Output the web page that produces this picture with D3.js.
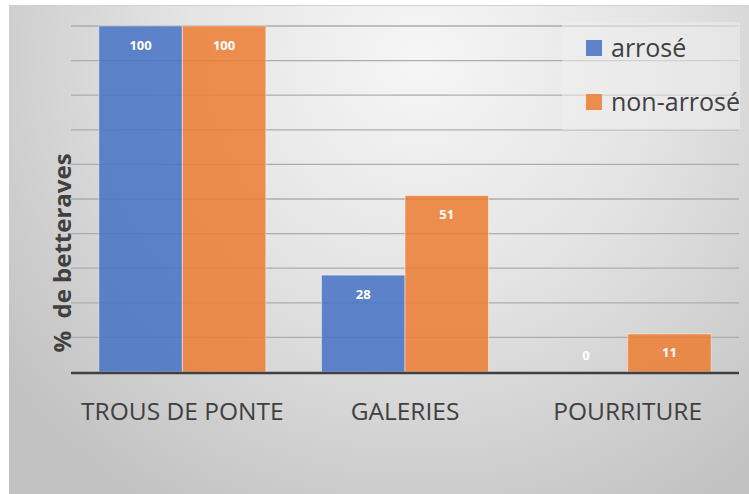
<!DOCTYPE html>
<html>
<head>
<meta charset="utf-8">
<script src="https://cdn.jsdelivr.net/npm/d3@7"></script>
<style>
  body { margin: 0; background: #fff; }
  text { font-family: "Open Sans", sans-serif; }
</style>
</head>
<body>
<div id="chart"></div>
<script>
const categories = ["TROUS DE PONTE", "GALERIES", "POURRITURE"];
const seriesNames = ["arrosé", "non-arrosé"];
const arroseValues = [100, 28, 0];
const nonArroseValues = [100, 51, 11];
const yTicks = [0, 10, 20, 30, 40, 50, 60, 70, 80, 90, 100];

const W = 749, H = 494;
const plot = { left: 71, right: 739, top: 26, bottom: 372 };
const colors = ["#4472C4", "#ED7D31"];

const svg = d3.select("#chart").append("svg")
    .attr("width", W).attr("height", H);

// background gradient
const defs = svg.append("defs");
const grad = defs.append("radialGradient")
    .attr("id", "bg")
    .attr("gradientUnits", "userSpaceOnUse")
    .attr("cx", 420).attr("cy", 60).attr("r", 520);
grad.append("stop").attr("offset", "0%").attr("stop-color", "#f6f6f6");
grad.append("stop").attr("offset", "45%").attr("stop-color", "#e4e4e4");
grad.append("stop").attr("offset", "100%").attr("stop-color", "#c2c2c2");

svg.append("rect")
    .attr("x", 9).attr("y", 5).attr("width", W - 9).attr("height", H - 5)
    .attr("fill", "url(#bg)");
svg.append("line")
    .attr("x1", 9).attr("x2", W).attr("y1", 5.5).attr("y2", 5.5)
    .attr("stroke", "#d0d0d0").attr("stroke-width", 1);

const data = categories.map((c, i) => ({
    cat: c,
    vals: [arroseValues[i], nonArroseValues[i]]
}));

const x0 = d3.scaleBand()
    .domain(categories)
    .range([plot.left, plot.right])
    .paddingInner(0.25)
    .paddingOuter(0.125);

const x1 = d3.scaleBand()
    .domain(seriesNames)
    .range([0, x0.bandwidth()]);

const y = d3.scaleLinear()
    .domain([0, 100])
    .range([plot.bottom, plot.top]);

// gridlines
svg.append("g")
    .selectAll("line")
    .data(yTicks.filter(t => t > 0))
    .enter()
    .append("line")
        .attr("x1", plot.left).attr("x2", plot.right)
        .attr("y1", d => y(d)).attr("y2", d => y(d))
        .attr("stroke", "#adadad")
        .attr("stroke-width", 1.3);

// bars
const groups = svg.append("g")
    .selectAll("g")
    .data(data)
    .enter()
    .append("g")
        .attr("transform", d => `translate(${x0(d.cat)},0)`);

groups.selectAll("rect")
    .data(d => d.vals.map((v, i) => ({ name: seriesNames[i], v: v, i: i })))
    .enter()
    .append("rect")
        .attr("x", d => x1(d.name))
        .attr("width", x1.bandwidth())
        .attr("y", d => y(d.v))
        .attr("height", d => y(0) - y(d.v))
        .attr("fill", d => colors[d.i])
        .attr("fill-opacity", 0.85)
        .attr("stroke", "#ffffff")
        .attr("stroke-opacity", d => d.v > 0 ? 0.45 : 0)
        .attr("stroke-width", 1);

groups.selectAll("text")
    .data(d => d.vals.map((v, i) => ({ name: seriesNames[i], v: v, i: i })))
    .enter()
    .append("text")
        .attr("x", d => x1(d.name) + x1.bandwidth() / 2)
        .attr("y", d => Math.min(y(d.v) + 19, y(0) - 17))
        .attr("dy", "0.35em")
        .attr("text-anchor", "middle")
        .attr("fill", "#ffffff")
        .attr("font-size", 13)
        .attr("font-weight", "bold")
        .text(d => d.v);

// baseline
svg.append("line")
    .attr("x1", plot.left).attr("x2", plot.right)
    .attr("y1", y(0) + 1).attr("y2", y(0) + 1)
    .attr("stroke", "#404040")
    .attr("stroke-width", 2.5);

// x axis labels
const xAxis = d3.axisBottom(x0).tickSize(0).tickPadding(0);
const xg = svg.append("g")
    .attr("transform", `translate(0, 411)`)
    .call(xAxis);
xg.select(".domain").remove();
xg.selectAll("text")
    .attr("dy", "0.35em")
    .attr("y", 0)
    .attr("fill", "#404040")
    .attr("font-size", 24.5)
    .style("font-family", "'Open Sans', sans-serif");

// y axis title
svg.append("text")
    .attr("transform", "translate(63, 253) rotate(-90)")
    .attr("text-anchor", "middle")
    .attr("dy", "0.35em")
    .attr("fill", "#404040")
    .attr("font-size", 24)
    .attr("font-weight", "bold")
    .style("white-space", "pre")
    .text("%  de betteraves");

// legend
const legend = svg.append("g");
legend.append("rect")
    .attr("x", 562).attr("y", 22).attr("width", 178).attr("height", 108)
    .attr("fill", "#eeeeee").attr("fill-opacity", 0.55);

const items = legend.selectAll("g.item")
    .data(seriesNames)
    .enter()
    .append("g")
        .attr("class", "item")
        .attr("transform", (d, i) => `translate(586, ${48 + i * 54})`);

items.append("rect")
    .attr("x", 0).attr("y", -8).attr("width", 16).attr("height", 16)
    .attr("fill", (d, i) => colors[i])
    .attr("fill-opacity", 0.85);

items.append("text")
    .attr("x", 25).attr("y", 0)
    .attr("dy", "0.35em")
    .attr("fill", "#404040")
    .attr("font-size", 25)
    .text(d => d);
</script>
</body>
</html>
